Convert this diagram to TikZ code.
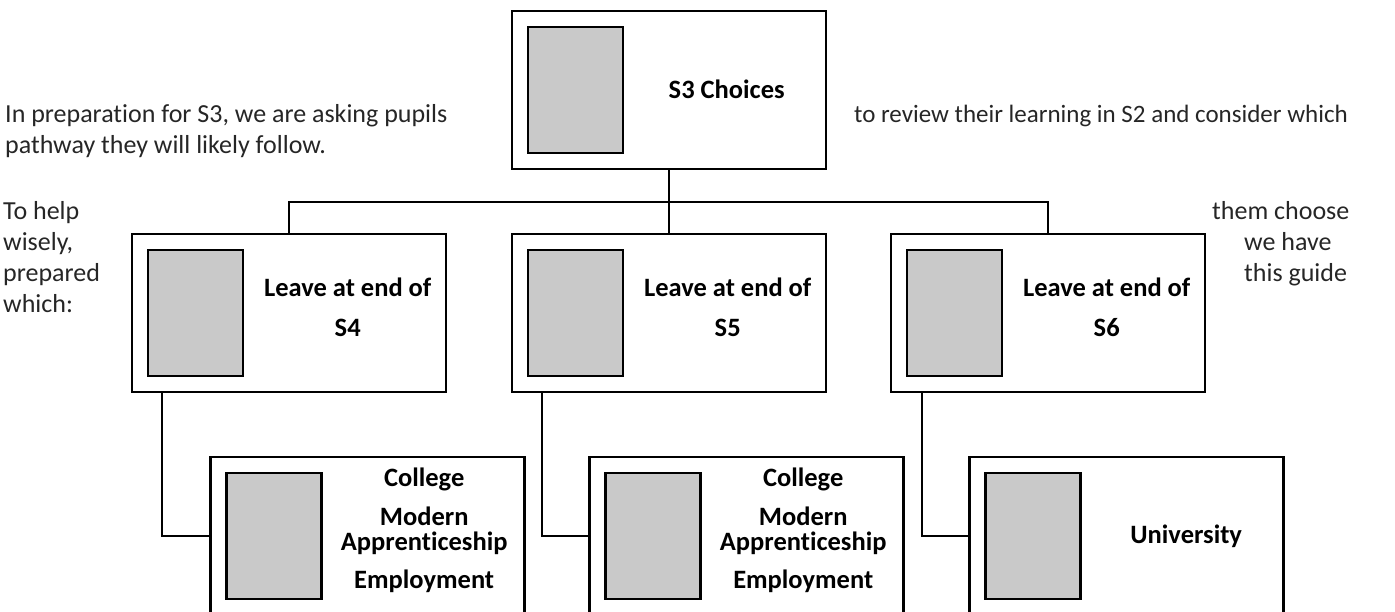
\documentclass[tikz,border=0pt]{standalone}
\usepackage{fontspec}
\setmainfont{Carlito}[Ligatures=NoCommon]
\usetikzlibrary{calc}

\definecolor{photogrey}{HTML}{C9C9C9}
\definecolor{bodygrey}{HTML}{262626}

\tikzset{
  chartbox/.style={draw, line width=2.4pt, fill=white, minimum width=314pt, minimum height=158pt, inner sep=0pt},
  photo/.style={draw, line width=2.4pt, fill=photogrey, minimum width=95pt, minimum height=126pt, inner sep=0pt},
  boxlabel/.style={font={\fontsize{26.5}{25}\selectfont\bfseries\lineskiplimit=-100pt}, align=center, inner sep=0pt, anchor=base},
  bodyline/.style={font=\fontsize{26}{29}\selectfont, text=bodygrey, inner sep=0pt, anchor=base west},
  link/.style={line width=2.4pt}
}

\begin{document}
\begin{tikzpicture}[x=1pt,y=-1pt]

\clip (0,0) rectangle (1395,611);

% text round the chart
\node[bodyline] (introa) at (5,122) {In preparation for S3, we are asking pupils};
\node[bodyline] (introb) at (5,153) {pathway they will likely follow.};
\node[bodyline, font=\fontsize{25}{29}\selectfont, anchor=base east] (introc) at (1348,122) {to review their learning in S2 and consider which};
\node[bodyline] (helpa) at (3,219) {To help};
\node[bodyline] (helpb) at (3,250) {wisely,};
\node[bodyline] (helpc) at (3,281) {prepared};
\node[bodyline] (helpd) at (3,312) {which:};
\node[bodyline] (choosea) at (1212,219) {them choose};
\node[bodyline] (chooseb) at (1244,250) {we have};
\node[bodyline] (choosec) at (1244,281) {this guide};

% top
\node[chartbox] (top) at (669,90) {};
\node[photo, anchor=west] (toppic) at ([xshift=16pt]top.west) {};
\node[boxlabel] (toplabel) at ($(toppic.east)!0.5!(top.east)+(1,8)$) {S3 Choices};

% leave at end of S4, S5, S6
\node[chartbox] (sfour) at (289,313) {};
\node[chartbox] (sfive) at (669,313) {};
\node[chartbox] (ssix) at (1048,313) {};
\foreach \n/\s in {sfour/S4,sfive/S5,ssix/S6}{
  \node[photo, anchor=west] (\n pic) at ([xshift=16pt]\n.west) {};
  \node[boxlabel] (\n label) at ($(\n pic.east)!0.5!(\n.east)+(2,23)$) {Leave at end of\\[15pt]\s};
}

% where next
\node[chartbox] (collegea) at (367.5,536) {};
\node[chartbox] (collegeb) at (746.5,536) {};
\node[chartbox] (uni) at (1126.5,536) {};
\foreach \n in {collegea,collegeb}{
  \node[photo, anchor=west] (\n pic) at ([xshift=16pt]\n.west) {};
  \node[boxlabel] (\n label) at ($(\n pic.east)!0.5!(\n.east)+(0,52)$) {College\\[14pt]Modern\\Apprenticeship\\[13pt]Employment};
}
\node[photo, anchor=west] (unipic) at ([xshift=16pt]uni.west) {};
\node[boxlabel] (unilabel) at ($(unipic.east)!0.5!(uni.east)+(3,7)$) {University};

% connectors
\coordinate (bus) at (669,202);
\draw[link] (top.south) -- (sfive.north);
\draw[link] (sfour.north) |- (bus) -| (ssix.north);
\draw[link] ([xshift=31pt]sfour.south west) |- (collegea.west);
\draw[link] ([xshift=31pt]sfive.south west) |- (collegeb.west);
\draw[link] ([xshift=32pt]ssix.south west) |- (uni.west);

\end{tikzpicture}
\end{document}
